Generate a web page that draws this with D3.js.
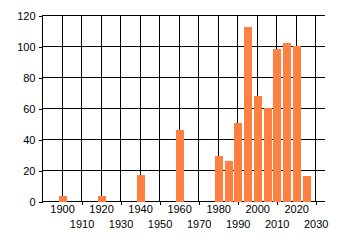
<!DOCTYPE html>
<html>
<head>
<meta charset="utf-8">
<script src="https://cdn.jsdelivr.net/npm/d3@7"></script>
<style>
  body { margin: 0; background: #fff; }
  text { font-family: "Liberation Sans", Arial, sans-serif; font-size: 11px; fill: #000; }
</style>
</head>
<body>
<div id="chart"></div>
<script>
// data
const years = [1900, 1920, 1940, 1960, 1980, 1985, 1990, 1995, 2000, 2005, 2010, 2015, 2020, 2025];
const counts = [3, 3, 17, 46, 29, 26, 50, 112, 68, 60, 98, 102, 100, 16];
const xTicks = [1890, 1900, 1910, 1920, 1930, 1940, 1950, 1960, 1970, 1980, 1990, 2000, 2010, 2020, 2030];
const yTicks = [0, 20, 40, 60, 80, 100, 120];

const W = 340, H = 245;
const plot = { left: 42, right: 325, top: 15, bottom: 201 };

const svg = d3.select("#chart").append("svg")
  .attr("width", W)
  .attr("height", H)
  .attr("shape-rendering", "crispEdges");

const x = d3.scaleLinear().domain([1890, 2035]).range([plot.left, plot.right]);
const y = d3.scaleLinear().domain([0, 120]).range([plot.bottom, plot.top]);

// gridlines
svg.append("g")
  .selectAll("line")
  .data(xTicks)
  .join("line")
    .attr("x1", d => Math.round(x(d)) + 0.5)
    .attr("x2", d => Math.round(x(d)) + 0.5)
    .attr("y1", plot.top)
    .attr("y2", plot.bottom)
    .attr("stroke", "#000");

svg.append("g")
  .selectAll("line")
  .data(yTicks)
  .join("line")
    .attr("x1", plot.left)
    .attr("x2", plot.right)
    .attr("y1", d => Math.round(y(d)) + 0.5)
    .attr("y2", d => Math.round(y(d)) + 0.5)
    .attr("stroke", "#000");

// bars
const barW = x(1894) - x(1890);
svg.append("g")
  .selectAll("rect")
  .data(years.map((yr, i) => ({ yr, v: counts[i] })))
  .join("rect")
    .attr("x", d => Math.round(x(d.yr) - barW / 2) + 0.5)
    .attr("width", Math.round(barW))
    .attr("y", d => Math.round(y(d.v)))
    .attr("height", d => plot.bottom + 1 - Math.round(y(d.v)))
    .attr("fill", "#ff8040");

// y axis
const yAxis = svg.append("g")
  .attr("transform", `translate(${plot.left + 0.5},0.5)`)
  .call(d3.axisLeft(y).tickValues(yTicks).tickSize(4).tickPadding(3));
yAxis.select(".domain").remove();
yAxis.selectAll("line").attr("stroke", "#000");
yAxis.selectAll("text").attr("font-size", 11).attr("font-family", null).attr("fill", "#000");

// x axis, labels on two rows
const xAxis = svg.append("g")
  .attr("transform", `translate(0.5,${plot.bottom + 0.5})`)
  .call(d3.axisBottom(x).tickValues(xTicks.slice(1)).tickSize(3).tickFormat(d => d));
xAxis.select(".domain").remove();
xAxis.selectAll(".tick line")
  .attr("stroke", "#000")
  .attr("y2", d => (d / 10) % 2 === 1 ? 3 : 0);
xAxis.selectAll(".tick text")
  .attr("font-size", 11)
  .attr("font-family", null)
  .attr("fill", "#000")
  .attr("y", d => (d / 10) % 2 === 1 ? 19 : 4);
</script>
</body>
</html>
